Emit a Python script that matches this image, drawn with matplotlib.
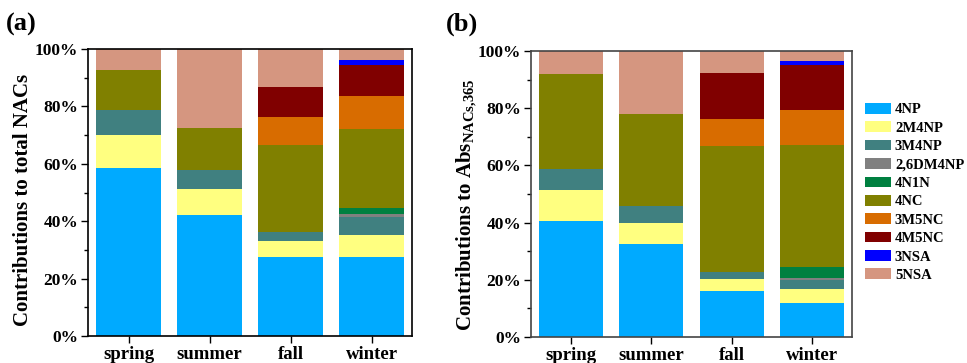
import matplotlib
matplotlib.use("Agg")
import matplotlib.pyplot as plt
from matplotlib.ticker import MultipleLocator, FuncFormatter
from matplotlib.patches import Patch

plt.rcParams['font.family'] = ['Liberation Serif', 'DejaVu Serif']
plt.rcParams['font.weight'] = 'bold'
plt.rcParams['mathtext.fontset'] = 'custom'
plt.rcParams['mathtext.rm'] = 'Liberation Serif:bold'
plt.rcParams['mathtext.bf'] = 'Liberation Serif:bold'
plt.rcParams['mathtext.it'] = 'Liberation Serif:bold:italic'

seasons = ['spring', 'summer', 'fall', 'winter']
species = ['4NP', '2M4NP', '3M4NP', '2,6DM4NP', '4N1N', '4NC', '3M5NC', '4M5NC', '3NSA', '5NSA']
colors = ['#00AAFF', '#FFFF80', '#408080', '#808080', '#008040', '#808000',
          '#D86C00', '#800000', '#0000FF', '#D59680']

# Panel (a): contributions to total NACs (%), per species, per season
conc_4NP = [58.4, 42.2, 27.4, 27.6]
conc_2M4NP = [11.7, 9.0, 5.6, 7.7]
conc_3M4NP = [8.7, 6.5, 3.4, 6.2]
conc_26DM4NP = [0.0, 0.0, 0.0, 1.1]
conc_4N1N = [0.0, 0.0, 0.0, 1.9]
conc_4NC = [14.0, 14.9, 30.2, 27.7]
conc_3M5NC = [0.0, 0.0, 9.7, 11.3]
conc_4M5NC = [0.0, 0.0, 10.6, 10.9]
conc_3NSA = [0.0, 0.0, 0.0, 1.6]
conc_5NSA = [7.2, 27.4, 13.1, 4.0]

# Panel (b): contributions to Abs_NACs,365 (%)
abs_4NP = [40.7, 32.4, 16.1, 12.0]
abs_2M4NP = [10.6, 7.6, 4.2, 4.7]
abs_3M4NP = [7.6, 5.9, 2.5, 3.4]
abs_26DM4NP = [0.0, 0.0, 0.0, 0.6]
abs_4N1N = [0.0, 0.0, 0.0, 3.9]
abs_4NC = [33.0, 32.0, 43.9, 42.5]
abs_3M5NC = [0.0, 0.0, 9.5, 12.4]
abs_4M5NC = [0.0, 0.0, 16.0, 15.6]
abs_3NSA = [0.0, 0.0, 0.0, 1.4]
abs_5NSA = [8.1, 22.1, 7.8, 3.5]

data_a = [conc_4NP, conc_2M4NP, conc_3M4NP, conc_26DM4NP, conc_4N1N, conc_4NC,
          conc_3M5NC, conc_4M5NC, conc_3NSA, conc_5NSA]
data_b = [abs_4NP, abs_2M4NP, abs_3M4NP, abs_26DM4NP, abs_4N1N, abs_4NC,
          abs_3M5NC, abs_4M5NC, abs_3NSA, abs_5NSA]

W, H = 967, 363
fig = plt.figure(figsize=(W / 100, H / 100), dpi=100)

ax_a = fig.add_axes([88 / W, 1 - 336 / H, (412 - 88) / W, (336 - 49) / H])
ax_b = fig.add_axes([531 / W, 1 - 337 / H, (852 - 531) / W, (337 - 51) / H])


def draw(ax, data, spine_color):
    x = list(range(len(seasons)))
    bottom = [0.0] * len(seasons)
    for vals, col in zip(data, colors):
        ax.bar(x, vals, width=0.8, bottom=bottom, color=col, edgecolor='none')
        bottom = [b + v for b, v in zip(bottom, vals)]
    ax.set_xlim(-0.5, 3.5)
    ax.set_ylim(0, 100)
    ax.set_xticks(x)
    ax.set_xticklabels(seasons, fontsize=13.5, fontweight='bold')
    ax.yaxis.set_major_locator(MultipleLocator(20))
    ax.yaxis.set_minor_locator(MultipleLocator(10))
    ax.yaxis.set_major_formatter(FuncFormatter(lambda v, p: f'{int(round(v))}%'))
    for lab in ax.get_yticklabels():
        lab.set_fontsize(12.5)
        lab.set_fontweight('bold')
    ax.tick_params(axis='y', which='major', direction='out', length=5, width=1, pad=2)
    ax.tick_params(axis='y', which='minor', direction='out', length=3, width=1)
    ax.tick_params(axis='x', which='major', direction='out', length=5, width=1, pad=2)
    for s in ax.spines.values():
        s.set_linewidth(1.2)
        s.set_color(spine_color)


draw(ax_a, data_a, 'black')
draw(ax_b, data_b, '#444444')

fig.text(23.5 / W, 1 - 200 / H, 'Contributions to total NACs', rotation=90,
         fontsize=15, fontweight='bold', ha='center', va='center')
fig.text(467 / W, 1 - 205 / H, r'Contributions to Abs$_{\mathbf{NACs{,}365}}$', rotation=90,
         fontsize=15, fontweight='bold', ha='center', va='center')

fig.text(6 / W, 1 - 24 / H, '(a)', fontsize=19, fontweight='bold', va='center', ha='left')
fig.text(446 / W, 1 - 24 / H, '(b)', fontsize=19, fontweight='bold', va='center', ha='left')

handles = [Patch(facecolor=c, edgecolor='none') for c in colors]
fig.legend(handles, species, loc='upper left', bbox_to_anchor=(865 / W, 1 - 103 / H),
           frameon=False, prop={'family': 'Liberation Serif', 'weight': 'bold', 'size': 10.5},
           handlelength=1.75, handleheight=0.75, handletextpad=0.3, labelspacing=0.34,
           borderaxespad=0, borderpad=0)

fig.savefig('out.png', dpi=100)
